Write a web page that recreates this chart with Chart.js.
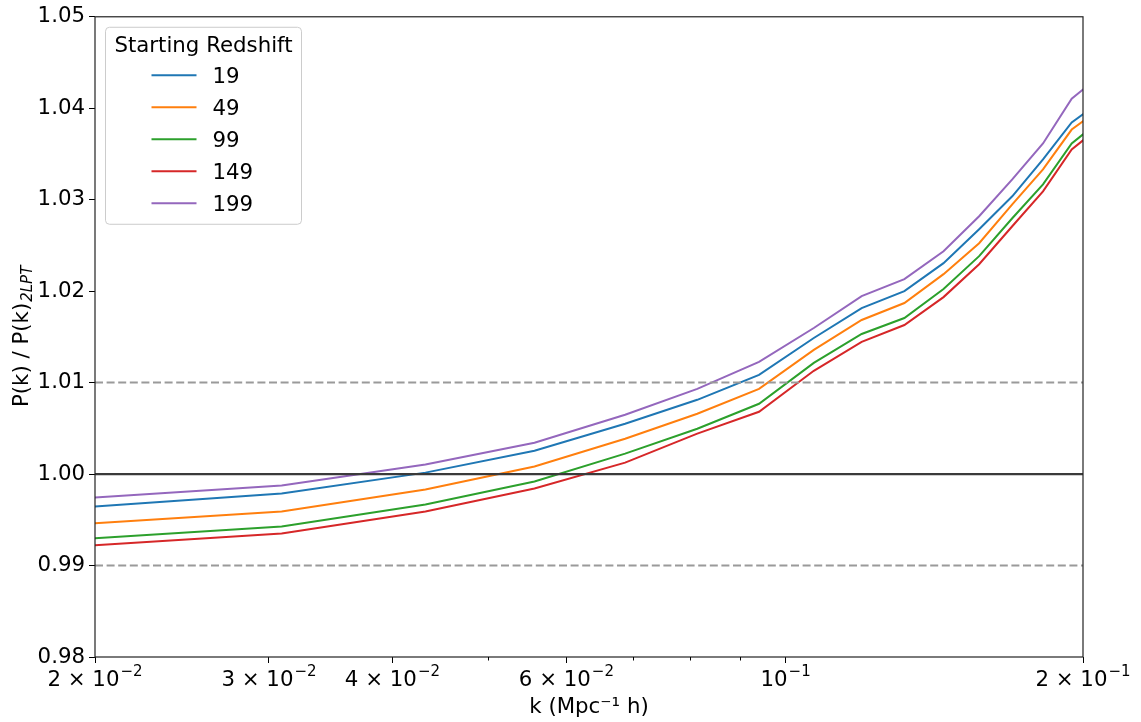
<!DOCTYPE html>
<html>
<head>
<meta charset="utf-8">
<script src="https://cdn.jsdelivr.net/npm/chart.js@4.4.0/dist/chart.umd.min.js"></script>
<style>
html, body { margin: 0; padding: 0; background: #fff; }
#wrap { width: 1141px; height: 722px; }
</style>
</head>
<body>
<div id="wrap"><canvas id="pk-chart"></canvas></div>
<script>
// wavenumber bins (Mpc^-1 h)
const kValues = [0.0188, 0.0309, 0.0432, 0.0557, 0.0688, 0.0814, 0.0940, 0.1068,
                 0.1194, 0.1319, 0.1445, 0.1570, 0.1696, 0.1822, 0.1948, 0.2073];

// P(k) / P(k)_2LPT for each starting redshift
const z19  = [0.99626, 0.99787, 1.00016, 1.00256, 1.00551, 1.00812, 1.01085, 1.01488,
              1.01815, 1.02001, 1.02306, 1.02677, 1.03037, 1.03440, 1.03844, 1.04055];
const z49  = [0.99443, 0.99591, 0.99831, 1.00082, 1.00387, 1.00660, 1.00932, 1.01358,
              1.01685, 1.01870, 1.02186, 1.02524, 1.02950, 1.03331, 1.03767, 1.03979];
const z99  = [0.99279, 0.99428, 0.99667, 0.99918, 1.00224, 1.00496, 1.00769, 1.01216,
              1.01532, 1.01706, 1.02023, 1.02383, 1.02797, 1.03168, 1.03615, 1.03849];
const z149 = [0.99203, 0.99351, 0.99591, 0.99842, 1.00125, 1.00442, 1.00681, 1.01129,
              1.01445, 1.01630, 1.01935, 1.02295, 1.02710, 1.03091, 1.03549, 1.03784];
const z199 = [0.99726, 0.99875, 1.00104, 1.00343, 1.00649, 1.00932, 1.01227, 1.01597,
              1.01946, 1.02132, 1.02437, 1.02819, 1.03222, 1.03615, 1.04105, 1.04340];

const redshiftLabels = ['19', '49', '99', '149', '199'];
const seriesColors = ['#1f77b4', '#ff7f0e', '#2ca02c', '#d62728', '#9467bd'];

// x axis ticks (log); empty mantissa = minor tick without label
const xTickValues   = [0.02, 0.03, 0.04, 0.05, 0.06, 0.07, 0.08, 0.09, 0.1, 0.2];
const xTickMantissa = ['2 × 10', '3 × 10', '4 × 10', '', '6 × 10', '', '', '', '10', '2 × 10'];
const xTickExponent = ['−2', '−2', '−2', '', '−2', '', '', '', '−1', '−1'];

// reference levels
const refSolid = [1.00];
const refDashed = [0.99, 1.01];

const xMin = 0.02, xMax = 0.2;
const FONT = 'DejaVu Sans';
const FS = 21.3;
const FS_SUP = 15;

Chart.defaults.font.family = FONT;
Chart.defaults.font.size = FS;
Chart.defaults.color = '#000';

const seriesData = [z19, z49, z99, z149, z199];
const datasets = seriesData.map((vals, i) => ({
    label: redshiftLabels[i],
    data: kValues.map((k, j) => ({x: k, y: vals[j]})),
    borderColor: seriesColors[i],
    borderWidth: 2,
    pointRadius: 0,
    tension: 0,
    inLegend: true,
    order: 10 - i
}));

refSolid.forEach(v => datasets.push({
    label: 'ref',
    data: [{x: xMin, y: v}, {x: xMax, y: v}],
    borderColor: '#3a3a3a',
    borderWidth: 2.2,
    pointRadius: 0,
    order: 0
}));
refDashed.forEach(v => datasets.push({
    label: 'ref',
    data: [{x: xMin, y: v}, {x: xMax, y: v}],
    borderColor: '#9a9a9a',
    borderWidth: 2,
    borderDash: [8, 3.6],
    pointRadius: 0,
    order: 0
}));

// frame, minor ticks, x tick labels with exponents, y title and the boxed legend
const decorPlugin = {
    id: 'decor',
    afterDraw(chart) {
        const ctx = chart.ctx;
        const a = chart.chartArea;
        const xs = chart.scales.x;
        const mainFont = FS + 'px "' + FONT + '"';
        const supFont = FS_SUP + 'px "' + FONT + '"';
        ctx.save();

        ctx.strokeStyle = '#222';
        ctx.lineWidth = 1.2;
        ctx.strokeRect(a.left, a.top, a.right - a.left, a.bottom - a.top);

        // minor x ticks
        ctx.strokeStyle = '#000';
        ctx.lineWidth = 1;
        xTickValues.forEach((v, i) => {
            if (xTickMantissa[i]) return;
            const px = Math.round(xs.getPixelForValue(v)) + 0.5;
            ctx.beginPath();
            ctx.moveTo(px, a.bottom);
            ctx.lineTo(px, a.bottom + 3.5);
            ctx.stroke();
        });

        // x tick labels: mantissa + raised exponent
        ctx.fillStyle = '#000';
        ctx.textBaseline = 'alphabetic';
        ctx.textAlign = 'left';
        xTickValues.forEach((v, i) => {
            const m = xTickMantissa[i];
            if (!m) return;
            const e = xTickExponent[i];
            ctx.font = mainFont;
            const wm = ctx.measureText(m).width;
            ctx.font = supFont;
            const we = ctx.measureText(e).width;
            const px = xs.getPixelForValue(v);
            const sx = px - (wm + we + 1) / 2;
            const base = a.bottom + 29;
            ctx.font = mainFont;
            ctx.fillText(m, sx, base);
            ctx.font = supFont;
            ctx.fillText(e, sx + wm + 1, base - 10);
        });

        // y axis title with subscript
        const main = 'P(k) / P(k)';
        const sub = '2LPT';
        ctx.font = mainFont;
        const wMain = ctx.measureText(main).width;
        ctx.font = 'italic 15px "' + FONT + '"';
        const wSub = ctx.measureText(sub).width;
        ctx.translate(28, (a.top + a.bottom) / 2);
        ctx.rotate(-Math.PI / 2);
        const start = -(wMain + wSub) / 2;
        ctx.font = mainFont;
        ctx.fillText(main, start, 0);
        ctx.font = 'italic 15px "' + FONT + '"';
        ctx.fillText(sub, start + wMain + 1, 4);
        ctx.setTransform(1, 0, 0, 1, 0, 0);

        // legend
        const items = chart.data.datasets.filter(d => d.inLegend);
        const x0 = a.left + 10.5, y0 = a.top + 10.5, w = 196, h = 197;
        ctx.beginPath();
        ctx.roundRect(x0, y0, w, h, 4);
        ctx.fillStyle = 'rgba(255,255,255,0.8)';
        ctx.fill();
        ctx.strokeStyle = '#cccccc';
        ctx.lineWidth = 1;
        ctx.stroke();

        ctx.fillStyle = '#000';
        ctx.font = mainFont;
        ctx.textAlign = 'center';
        ctx.fillText('Starting Redshift', x0 + w / 2, y0 + 24.5);
        ctx.textAlign = 'left';
        items.forEach((d, i) => {
            const y = y0 + 48 + i * 32;
            ctx.strokeStyle = d.borderColor;
            ctx.lineWidth = 2;
            ctx.beginPath();
            ctx.moveTo(x0 + 46, y);
            ctx.lineTo(x0 + 91, y);
            ctx.stroke();
            ctx.fillText(d.label, x0 + 107, y + 7.5);
        });
        ctx.restore();
    }
};

const pkCanvas = document.getElementById('pk-chart');

let pkChart = new Chart(pkCanvas, {
    type: 'line',
    data: { datasets: datasets },
    options: {
        responsive: true,
        maintainAspectRatio: false,
        devicePixelRatio: 1,
        animation: false,
        layout: {
            padding: { top: 15, right: 58, bottom: 0, left: 0 }
        },
        plugins: {
            legend: { display: false },
            tooltip: { enabled: false }
        },
        scales: {
            x: {
                type: 'logarithmic',
                min: xMin,
                max: xMax,
                afterBuildTicks: axis => {
                    axis.ticks = xTickValues.map(v => ({ value: v }));
                },
                afterFit: axis => { axis.height = 65; },
                border: { display: false },
                grid: {
                    display: true,
                    drawOnChartArea: false,
                    drawTicks: true,
                    tickLength: 6,
                    tickWidth: 1,
                    tickColor: c => xTickMantissa[c.index] ? '#000' : 'rgba(0,0,0,0)'
                },
                ticks: {
                    autoSkip: false,
                    maxRotation: 0,
                    padding: 4,
                    callback: () => ''
                },
                title: {
                    display: true,
                    text: 'k (Mpc⁻¹ h)',
                    color: '#000',
                    padding: { top: 0, bottom: 2 }
                }
            },
            y: {
                type: 'linear',
                min: 0.98,
                max: 1.05,
                afterFit: axis => { axis.width = 95; },
                border: { display: false },
                grid: {
                    display: true,
                    drawOnChartArea: false,
                    drawTicks: true,
                    tickLength: 6,
                    tickWidth: 1,
                    tickColor: '#000'
                },
                ticks: {
                    stepSize: 0.01,
                    padding: 4,
                    color: '#000',
                    callback: v => v.toFixed(2)
                }
            }
        }
    },
    plugins: [decorPlugin]
});
</script>
</body>
</html>
